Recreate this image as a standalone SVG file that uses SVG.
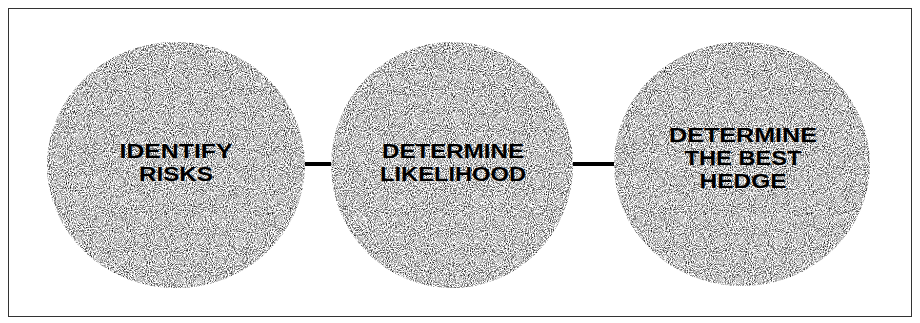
<svg xmlns="http://www.w3.org/2000/svg" width="920" height="323" viewBox="0 0 920 323">
  <style>
    .node-shape { fill: #b0b0b0; filter: url(#grain); }
    .label { font-family: "Liberation Sans", Arial, sans-serif; font-weight: bold; font-size: 21px; fill: #000; text-anchor: middle; }
    .conn { stroke: #000; stroke-width: 4; fill: none; }
  </style>
  <defs>
    <filter id="grain" x="0" y="0" width="100%" height="100%" color-interpolation-filters="sRGB">
      <feTurbulence type="fractalNoise" baseFrequency="0.95" numOctaves="2" seed="3" result="noise"/>
      <feColorMatrix in="noise" type="matrix" values="2.2 0 0 0 -0.33  2.2 0 0 0 -0.33  2.2 0 0 0 -0.33  0 0 0 0 1" result="gray"/>
      <feComposite in="gray" in2="SourceGraphic" operator="in"/>
    </filter>
  </defs>
  <rect x="0" y="0" width="920" height="323" fill="#fff"/>
  <rect x="8.5" y="8.5" width="903" height="308" fill="none" stroke="#333" stroke-width="1"/>
  <g id="connectors">
    <line class="conn" x1="302" y1="164" x2="332" y2="164"/>
    <line class="conn" x1="571" y1="164" x2="614" y2="164"/>
  </g>
  <g id="node-identify-risks">
    <ellipse class="node-shape" cx="176" cy="165" rx="129" ry="123"/>
    <text class="label" x="176" y="158" textLength="113" lengthAdjust="spacingAndGlyphs">IDENTIFY</text>
    <text class="label" x="176" y="181" textLength="74" lengthAdjust="spacingAndGlyphs">RISKS</text>
  </g>
  <g id="node-determine-likelihood">
    <ellipse class="node-shape" cx="452" cy="165" rx="121" ry="123"/>
    <text class="label" x="453" y="158" textLength="142" lengthAdjust="spacingAndGlyphs">DETERMINE</text>
    <text class="label" x="453" y="181" textLength="146" lengthAdjust="spacingAndGlyphs">LIKELIHOOD</text>
  </g>
  <g id="node-determine-best-hedge">
    <ellipse class="node-shape" cx="742" cy="164" rx="128" ry="122"/>
    <text class="label" x="743" y="142" textLength="148" lengthAdjust="spacingAndGlyphs">DETERMINE</text>
    <text class="label" x="743" y="165" textLength="117" lengthAdjust="spacingAndGlyphs">THE BEST</text>
    <text class="label" x="743" y="188" textLength="87" lengthAdjust="spacingAndGlyphs">HEDGE</text>
  </g>
</svg>
